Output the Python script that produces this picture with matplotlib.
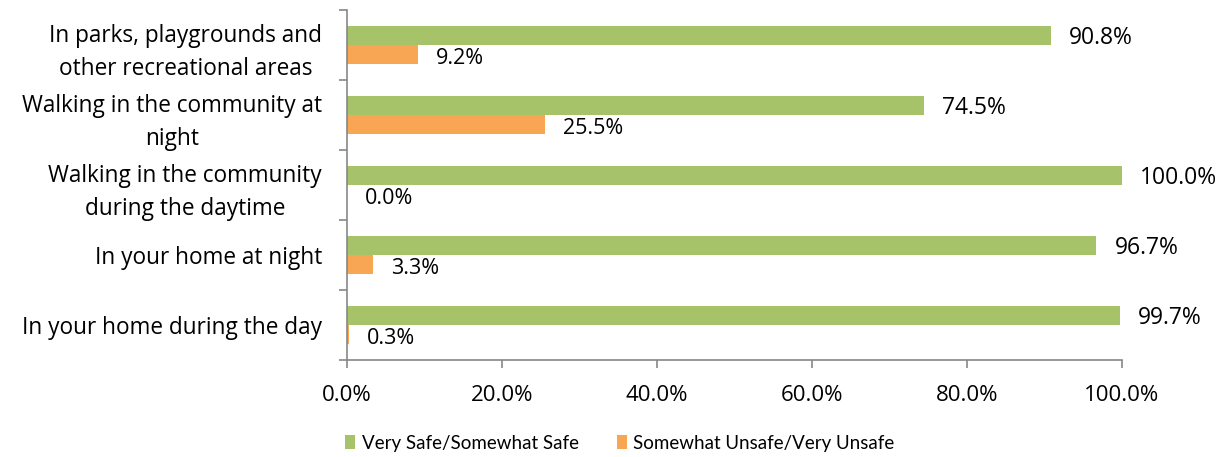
import matplotlib.pyplot as plt
import numpy as np

plt.rcParams['font.family'] = ['Open Sans', 'DejaVu Sans']

categories = ["In parks, playgrounds and\nother recreational areas",
              "Walking in the community at\nnight",
              "Walking in the community\nduring the daytime",
              "In your home at night",
              "In your home during the day"]
safe = [90.8, 74.5, 100.0, 96.7, 99.7]
unsafe = [9.2, 25.5, 0.0, 3.3, 0.3]

green = '#A6C36A'
orange = '#F8A554'
gray = '#878787'

fig = plt.figure(figsize=(12.3, 4.57), dpi=100)
ax = fig.add_axes([0.2821, 0.2123, 0.9122 - 0.2821, 0.9781 - 0.2123])

y = np.arange(len(categories))[::-1]
h = 0.27
ax.barh(y + h / 2, safe, height=h, color=green, label='Very Safe/Somewhat Safe')
ax.barh(y - h / 2, unsafe, height=h, color=orange, label='Somewhat Unsafe/Very Unsafe')

for yi, v in zip(y, safe):
    ax.annotate(f'{v:.1f}%', (v, yi + h / 2), xytext=(13, -2), textcoords='offset points',
                va='center', ha='left', fontsize=16.5)
for yi, v in zip(y, unsafe):
    ax.annotate(f'{v:.1f}%', (v, yi - h / 2), xytext=(13, -3), textcoords='offset points',
                va='center', ha='left', fontsize=15.5)

ax.set_xlim(0, 100)
ax.set_ylim(-0.5, len(categories) - 0.5)
ax.set_xticks(np.arange(0, 101, 20))
ax.set_xticklabels([f'{t:.1f}%' for t in np.arange(0, 101, 20)], fontsize=16)
ax.set_yticks(y)
ax.set_yticklabels(categories, fontsize=16.3, linespacing=1.5)
for lab in ax.get_yticklabels():
    lab.set_multialignment('center')
ax.set_yticks(np.arange(-0.5, len(categories), 1), minor=True)
ax.tick_params(axis='y', which='major', length=0, pad=18)
ax.tick_params(axis='y', which='minor', length=6, color=gray, width=1.2)
ax.tick_params(axis='x', length=6, color=gray, width=1.2, pad=12)

for s in ['top', 'right']:
    ax.spines[s].set_visible(False)
for s in ['left', 'bottom']:
    ax.spines[s].set_color(gray)
    ax.spines[s].set_linewidth(1.2)

fig.legend(loc='center', bbox_to_anchor=(0.504, 0.03), ncol=2, frameon=False,
           prop={'family': ['Lato'], 'size': 13.5},
           handlelength=0.55, handleheight=0.8, columnspacing=2.0, handletextpad=0.35)

fig.savefig('out.png', dpi=100)
